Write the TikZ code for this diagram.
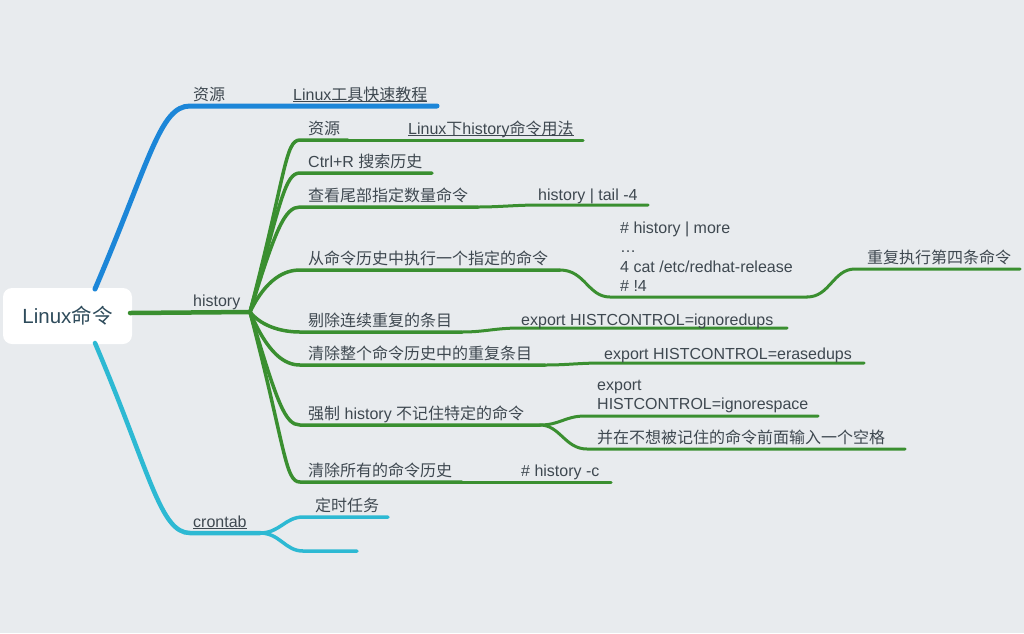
\documentclass[tikz,border=0pt]{standalone}
\usepackage{fontspec}
\setmainfont{Liberation Sans}
\newfontfamily\zhfont{Noto Sans CJK SC}
\newcommand\linkul[1]{\setbox0\hbox{#1}\rlap{\rule[-2pt]{\wd0}{0.8pt}}\box0}
\definecolor{bgc}{HTML}{E8EBEE}
\definecolor{txtc}{HTML}{3E4850}
\definecolor{roottxt}{HTML}{2E4B5B}
\definecolor{bluec}{HTML}{1C86D8}
\definecolor{greenc}{HTML}{3A8F30}
\definecolor{cyanc}{HTML}{2DB9D3}
\begin{document}
\begin{tikzpicture}[x=1pt,y=-1pt,
  lbl/.style={anchor=base west, inner sep=0pt, text=txtc, font=\fontsize{16}{19.5}\selectfont},
  rootbox/.style={fill=white, rounded corners=9pt, minimum width=129pt, minimum height=56pt, inner sep=0pt, text=roottxt, font=\fontsize{20.5}{24}\selectfont},
  bluebr/.style={draw=bluec, line width=5pt, line cap=round},
  cyanbr/.style={draw=cyanc, line width=4.5pt, line cap=round},
  cyansub/.style={draw=cyanc, line width=3.5pt, line cap=round},
  greenmain/.style={draw=greenc, line width=4.5pt, line cap=round},
  greenone/.style={draw=greenc, line width=3.5pt, line cap=round},
  greentwo/.style={draw=greenc, line width=3pt, line cap=round}]
\fill[bgc] (0,0) rectangle (1024,633);
\useasboundingbox (0,0) rectangle (1024,633);

% root
\node[rootbox] (root) at (67.5,316) {Linux{\zhfont 命令}};

% coordinates
\coordinate (rtop) at (95,289);
\coordinate (rbot) at (95,343);
\coordinate (rright) at (130,313);
\coordinate (bh) at (190,106);
\coordinate (bend) at (437,106);
\coordinate (hf) at (250,312);
\coordinate (ch) at (190,533);
\coordinate (cf) at (260,533);

% blue branch
\draw[bluebr] (rtop) .. controls (150,160) and (160,106) .. (bh) -- (bend);
% cyan branch
\draw[cyanbr] (rbot) .. controls (150,472) and (160,533) .. (ch) -- (cf);
\coordinate (c1) at (303,517); \coordinate (c1e) at (388,517);
\coordinate (c2) at (303,551); \coordinate (c2e) at (357,551);
\draw[cyansub] (cf) .. controls (280,533) and (285,517) .. (c1) -- (c1e);
\draw[cyansub] (cf) .. controls (280,533) and (285,551) .. (c2) -- (c2e);
% history main
\draw[greenmain] (rright) -- (hf);

% history children
\coordinate (g1) at (300,140); \coordinate (g1e) at (348,140);
\coordinate (g2) at (300,173); \coordinate (g2e) at (432,173);
\coordinate (g3) at (300,207); \coordinate (g3e) at (478,207);
\coordinate (g4) at (300,270); \coordinate (g4e) at (560,270);
\coordinate (g5) at (300,332); \coordinate (g5e) at (462,332);
\coordinate (g6) at (300,365); \coordinate (g6e) at (545,365);
\coordinate (g7) at (300,425); \coordinate (g7e) at (540,425);
\coordinate (g8) at (300,482); \coordinate (g8e) at (462,482);
\draw[greenone] (hf) .. controls (285.8,174.4) and (285,140) .. (g1) -- (g1e);
\draw[greenone] (hf) .. controls (280.9,200.8) and (285,173) .. (g2) -- (g2e);
\draw[greenone] (hf) .. controls (275.8,228) and (285,207) .. (g3) -- (g3e);
\draw[greenone] (hf) .. controls (266.3,278.4) and (285,270) .. (g4) -- (g4e);
\draw[greenone] (hf) .. controls (263,328) and (285,332) .. (g5) -- (g5e);
\draw[greenone] (hf) .. controls (268,354.4) and (285,365) .. (g6) -- (g6e);
\draw[greenone] (hf) .. controls (277,402.4) and (285,425) .. (g7) -- (g7e);
\draw[greenone] (hf) .. controls (285.5,448) and (285,482) .. (g8) -- (g8e);

% second level green
\coordinate (s1e) at (583,140);
\draw[greentwo] (g1e) -- (s1e);
\coordinate (s3) at (540,205); \coordinate (s3e) at (648,205);
\draw[greentwo] (g3e) .. controls (500,207) and (515,205) .. (s3) -- (s3e);
\coordinate (s4) at (610,297); \coordinate (s4e) at (807,297);
\draw[greentwo] (g4e) .. controls (585,270) and (588,297) .. (s4) -- (s4e);
\coordinate (s4g) at (855,269); \coordinate (s4ge) at (1020,269);
\draw[greentwo] (s4e) .. controls (830,297) and (833,269) .. (s4g) -- (s4ge);
\coordinate (s5) at (520,328); \coordinate (s5e) at (787,328);
\draw[greentwo] (g5e) .. controls (485,332) and (495,328) .. (s5) -- (s5e);
\coordinate (s6) at (603,363); \coordinate (s6e) at (864,363);
\draw[greentwo] (g6e) .. controls (568,365) and (578,363) .. (s6) -- (s6e);
\coordinate (s7a) at (585,416); \coordinate (s7ae) at (818,416);
\coordinate (s7b) at (587,449); \coordinate (s7be) at (905,449);
\draw[greentwo] (g7e) .. controls (560,425) and (565,416) .. (s7a) -- (s7ae);
\draw[greentwo] (g7e) .. controls (560,425) and (565,449) .. (s7b) -- (s7be);
\coordinate (s8) at (520,482); \coordinate (s8e) at (611,482);
\draw[greentwo] (g8e) .. controls (485,482) and (495,482) .. (s8) -- (s8e);

% labels
\node[lbl] (tb1) at (193,100) {\zhfont 资源};
\node[lbl] (tb1c) at (293,100) {\linkul{Linux{\zhfont 工具快速教程}}};
\node[lbl] (th) at (193,306) {history};
\node[lbl] (tc) at (193,527) {\linkul{crontab}};
\node[lbl] (tc1) at (315,511) {\zhfont 定时任务};

\node[lbl] (t1) at (308,134) {\zhfont 资源};
\node[lbl] (t1c) at (408,134) {\linkul{Linux{\zhfont 下}history{\zhfont 命令用法}}};
\node[lbl] (t2) at (308,167) {Ctrl+R {\zhfont 搜索历史}};
\node[lbl] (t3) at (308,201) {\zhfont 查看尾部指定数量命令};
\node[lbl] (t3c) at (538,200) {history | tail -4};
\node[lbl] (t4) at (308,264) {\zhfont 从命令历史中执行一个指定的命令};
\node[lbl] (t4c) at (620,233) {\begin{tabular}[t]{@{}l@{}}\# history | more\\…\\4 cat /etc/redhat-release\\\# !4\end{tabular}};
\node[lbl] (t4g) at (867,263) {\zhfont 重复执行第四条命令};
\node[lbl] (t5) at (308,326) {\zhfont 剔除连续重复的条目};
\node[lbl] (t5c) at (521,325) {export HISTCONTROL=ignoredups};
\node[lbl] (t6) at (308,359) {\zhfont 清除整个命令历史中的重复条目};
\node[lbl] (t6c) at (604,359) {export HISTCONTROL=erasedups};
\node[lbl] (t7) at (308,419) {{\zhfont 强制} history {\zhfont 不记住特定的命令}};
\node[lbl] (t7a) at (597,390) {\begin{tabular}[t]{@{}l@{}}export\\HISTCONTROL=ignorespace\end{tabular}};
\node[lbl] (t7b) at (597,443) {\zhfont 并在不想被记住的命令前面输入一个空格};
\node[lbl] (t8) at (308,476) {\zhfont 清除所有的命令历史};
\node[lbl] (t8c) at (521,476) {\# history -c};
\end{tikzpicture}
\end{document}
